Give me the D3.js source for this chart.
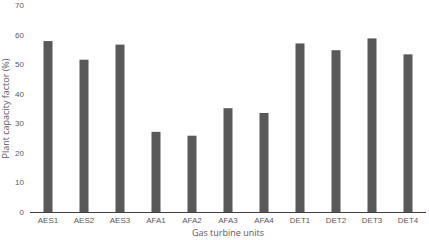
<!DOCTYPE html>
<meta charset="utf-8">
<style>
body { margin: 0; background: #fff; }
svg { display: block; font-family: "Open Sans", sans-serif; }
.tick text { fill: #595959; font-size: 8px; }
.title { fill: #595959; font-size: 9px; }
</style>
<svg width="429" height="240"></svg>
<script src="https://d3js.org/d3.v7.min.js"></script>
<script>

// gas turbine units and their plant capacity factor (%)
var units = ["AES1", "AES2", "AES3", "AFA1", "AFA2", "AFA3", "AFA4", "DET1", "DET2", "DET3", "DET4"];
var capacity = [57.8, 51.5, 56.6, 27.1, 25.8, 35.1, 33.5, 57.0, 54.7, 58.7, 53.3];
var yTicks = [0, 10, 20, 30, 40, 50, 60, 70];

var svg = d3.select("svg"),
    margin = {top: 5, right: 3, bottom: 28, left: 30},
    width = svg.attr("width") - margin.left - margin.right,
    height = svg.attr("height") - margin.top - margin.bottom,
    g = svg.append("g").attr("transform", "translate(" + margin.left + "," + margin.top + ")");

var x = d3.scaleBand().domain(units).range([0, width]).paddingInner(0.75).paddingOuter(0.375),
    y = d3.scaleLinear().domain([0, 70]).range([height, 0]);

// y axis: labels only, no line
g.append("g")
    .call(d3.axisLeft(y).tickValues(yTicks).tickSize(0).tickPadding(6))
    .call(function(a) { a.select(".domain").remove(); });

g.selectAll(".bar")
  .data(capacity)
  .enter().append("rect")
    .attr("class", "bar")
    .attr("x", function(d, i) { return x(units[i]); })
    .attr("y", function(d) { return y(d); })
    .attr("width", x.bandwidth())
    .attr("height", function(d) { return height - y(d); })
    .attr("fill", "#595959");

g.append("g")
    .attr("transform", "translate(0," + height + ")")
    .call(d3.axisBottom(x).tickSize(0).tickPadding(5))
    .call(function(a) { a.select(".domain").attr("stroke", "#404040").attr("d", "M0,0.5H" + width); });

svg.append("text")
    .attr("class", "title")
    .attr("text-anchor", "middle")
    .attr("transform", "translate(9," + (margin.top + height / 2) + ") rotate(-90)")
    .text("Plant capacity factor (%)");

svg.append("text")
    .attr("class", "title")
    .attr("text-anchor", "middle")
    .attr("x", margin.left + width / 2)
    .attr("y", 236)
    .text("Gas turbine units");

</script>
